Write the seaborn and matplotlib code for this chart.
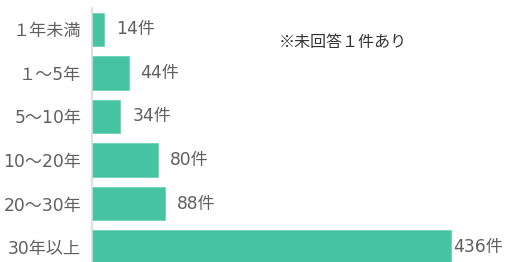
import pandas as pd
import matplotlib.pyplot as plt
import seaborn as sns

categories = ['１年未満', '１～5年', '5～10年', '10～20年', '20～30年', '30年以上']
counts = [14, 44, 34, 80, 88, 436]
note = '※未回答１件あり'

sns.set_style('white')
# wide latin digits from DejaVu, kana/kanji from Noto CJK
plt.rcParams['font.family'] = ['DejaVu Sans', 'Noto Sans CJK JP']

df = pd.DataFrame({'period': categories, 'count': counts})

fig = plt.figure(figsize=(5.08, 2.62), dpi=100)
ax = fig.add_axes([0.182, -0.0267, 0.8105, 0.998])
sns.barplot(data=df, x='count', y='period', color='#45c3a3', saturation=1,
            width=0.77, edgecolor='#6fd3b9', linewidth=0.6, ax=ax)

ax.set_xlim(0, 500)
ax.set_ylim(5.5, -0.5)
ax.set_xlabel('')
ax.set_ylabel('')
ax.set_xticks([])
ax.tick_params(axis='y', which='major', length=0, pad=8, labelsize=12.3, labelcolor='#5f5f5f')
ax.set_yticks([i - 0.5 for i in range(len(categories))], minor=True)
ax.tick_params(axis='y', which='minor', length=3, color='#d9d9d9', width=0.8)
for s in ['top', 'right', 'bottom']:
    ax.spines[s].set_visible(False)
ax.spines['left'].set_color('#d9d9d9')
ax.spines['left'].set_linewidth(1.2)

labels = [f'{c}件' for c in counts]
pads = [8.5] * (len(counts) - 1) + [1]
for bar, lab, p in zip(ax.patches, labels, pads):
    ax.annotate(lab, (bar.get_width(), bar.get_y() + bar.get_height() / 2),
                xytext=(p, 0), textcoords='offset points', va='center', ha='left',
                fontsize=12.3, color='#5f5f5f')

fig.text(279 / 508, 1 - 43 / 262, note, fontsize=11.5, color='#333333', va='center', ha='left',
         family=['Noto Sans CJK JP', 'DejaVu Sans'])

fig.savefig('out.png', dpi=100)
